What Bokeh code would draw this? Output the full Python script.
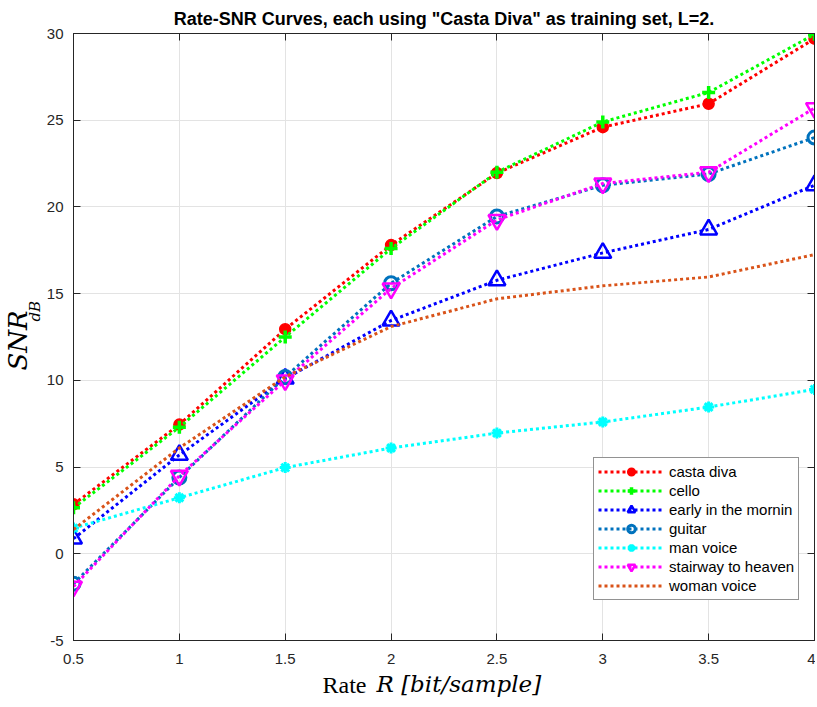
from bokeh.plotting import figure
from bokeh.models import (ColumnDataSource, Range1d, FixedTicker, LinearAxis, Title,
                          Legend, LegendItem)
from bokeh.embed import file_html
from bokeh.resources import INLINE

rates = [0.5, 1.0, 1.5, 2.0, 2.5, 3.0, 3.5, 4.0]
casta_diva = [2.85, 7.45, 12.95, 17.8, 21.95, 24.6, 25.95, 29.7]
cello = [2.65, 7.3, 12.5, 17.6, 22.0, 24.9, 26.6, 29.95]
early_in_the_mornin = [0.87, 5.7, 10.1, 13.45, 15.77, 17.35, 18.7, 21.25]
guitar = [-1.73, 4.4, 10.2, 15.6, 19.45, 21.25, 21.9, 24.0]
man_voice = [1.48, 3.23, 4.97, 6.1, 6.96, 7.6, 8.46, 9.48]
stairway_to_heaven = [-1.89, 4.5, 10.0, 15.3, 19.25, 21.35, 22.0, 25.7]
woman_voice = [1.4, 6.1, 10.2, 13.1, 14.7, 15.45, 15.96, 17.25]

series_names = ["casta diva", "cello", "early in the mornin", "guitar",
                "man voice", "stairway to heaven", "woman voice"]
series_values = [casta_diva, cello, early_in_the_mornin, guitar,
                 man_voice, stairway_to_heaven, woman_voice]

x_ticks = [0.5, 1.0, 1.5, 2.0, 2.5, 3.0, 3.5, 4.0]
x_tick_labels = ["0.5", "1", "1.5", "2", "2.5", "3", "3.5", "4"]
y_ticks = [-5, 0, 5, 10, 15, 20, 25, 30]
y_tick_labels = ["-5", "0", "5", "10", "15", "20", "25", "30"]

styles = [
    dict(color="#FF0000", marker="circle", size=11, fill=True, lw=1.5),
    dict(color="#00FF00", marker="cross", size=13, fill=False, lw=3.5),
    dict(color="#0000FF", marker="triangle", size=17, fill=False, lw=2.5),
    dict(color="#0072BD", marker="circle", size=13, fill=False, lw=3),
    dict(color="#00FFFF", marker="asterisk", size=11, fill=False, lw=3),
    dict(color="#FF00FF", marker="inverted_triangle", size=17, fill=False, lw=2.5),
    dict(color="#D95319", marker=None, size=0, fill=False, lw=1),
]

AX = "#262626"
W, H = 815, 707
p = figure(width=W, height=H, output_backend="svg", toolbar_location=None,
           x_range=Range1d(0.5, 4), y_range=Range1d(-5, 30),
           min_border_left=73, min_border_right=1, min_border_top=33,
           min_border_bottom=67)
p.title.text = 'Rate-SNR Curves, each using "Casta Diva" as training set, L=2.'
p.title.align = "center"
p.title.text_font = "Liberation Sans"
p.title.text_font_size = "18px"
p.title.text_font_style = "bold"
p.title.text_color = "#000000"
p.title.standoff = 9

p.xaxis.ticker = FixedTicker(ticks=x_ticks)
p.yaxis.ticker = FixedTicker(ticks=y_ticks)
p.xaxis.major_label_overrides = {t: l for t, l in zip(x_ticks, x_tick_labels)}
p.yaxis.major_label_overrides = {t: l for t, l in zip(y_ticks, y_tick_labels)}

for ax in (p.xaxis[0], p.yaxis[0]):
    ax.axis_line_color = AX
    ax.major_tick_line_color = AX
    ax.major_tick_in = 7
    ax.major_tick_out = 0
    ax.minor_tick_line_color = None
    ax.major_label_text_font = "Liberation Sans"
    ax.major_label_text_font_size = "15px"
    ax.major_label_text_color = AX
p.xaxis.major_label_standoff = 13
p.yaxis.major_label_standoff = 10

for side in ("above", "right"):
    ax2 = LinearAxis(ticker=FixedTicker(ticks=x_ticks if side == "above" else y_ticks),
                     axis_line_color=AX, major_tick_line_color=AX,
                     major_tick_in=7, major_tick_out=0, minor_tick_line_color=None,
                     major_label_text_font_size="0px", major_label_standoff=0,
                     major_label_text_color=None)
    p.add_layout(ax2, side)

p.grid.grid_line_color = "#E3E3E3"
p.grid.grid_line_width = 1
p.outline_line_color = AX
p.background_fill_color = "white"
p.border_fill_color = "white"

items = []
for name, vals, st in zip(series_names, series_values, styles):
    src = ColumnDataSource(dict(x=rates, y=vals))
    rs = []
    rs.append(p.line("x", "y", source=src, line_color=st["color"], line_width=3,
                     line_dash="3 3"))
    if st["marker"]:
        rs.append(p.scatter("x", "y", source=src, marker=st["marker"], size=st["size"],
                            line_color=st["color"], line_width=st["lw"],
                            fill_color=st["color"] if st["fill"] else None))
    items.append(LegendItem(label=name, renderers=rs))

legend = Legend(items=items, location=(520, 40))
legend.label_text_font = "Liberation Sans"
legend.label_text_font_size = "15px"
legend.label_text_color = "#000000"
legend.glyph_width = 66
legend.glyph_height = 19
legend.label_height = 19
legend.spacing = 0
legend.padding = 4
legend.margin = 0
legend.label_standoff = 5
legend.border_line_color = AX
legend.border_line_width = 1
legend.background_fill_alpha = 1
p.add_layout(legend, "center")

# axis labels as side-panel titles (mixed upright / italic, with subscript)
p.add_layout(Title(text="Rate", align="left", offset=249, standoff=8,
                   vertical_align="middle",
                   text_font="Liberation Serif", text_font_size="24px",
                   text_font_style="normal", text_color="#000000"), "below")
p.add_layout(Title(text="R [bit/sample]", align="left", offset=303, standoff=-64,
                   vertical_align="top",
                   text_font="DejaVu Serif", text_font_size="23px",
                   text_font_style="italic", text_color="#000000"), "below")
p.add_layout(Title(text="dB", align="left", offset=319, standoff=0,
                   text_font="DejaVu Serif", text_font_size="15px",
                   text_font_style="italic", text_color="#000000"), "left")
p.add_layout(Title(text="SNR", align="left", offset=270, standoff=-18,
                   text_font="DejaVu Serif", text_font_size="26px",
                   text_font_style="italic", text_color="#000000"), "left")

open("out.html", "w").write(file_html(p, INLINE))
